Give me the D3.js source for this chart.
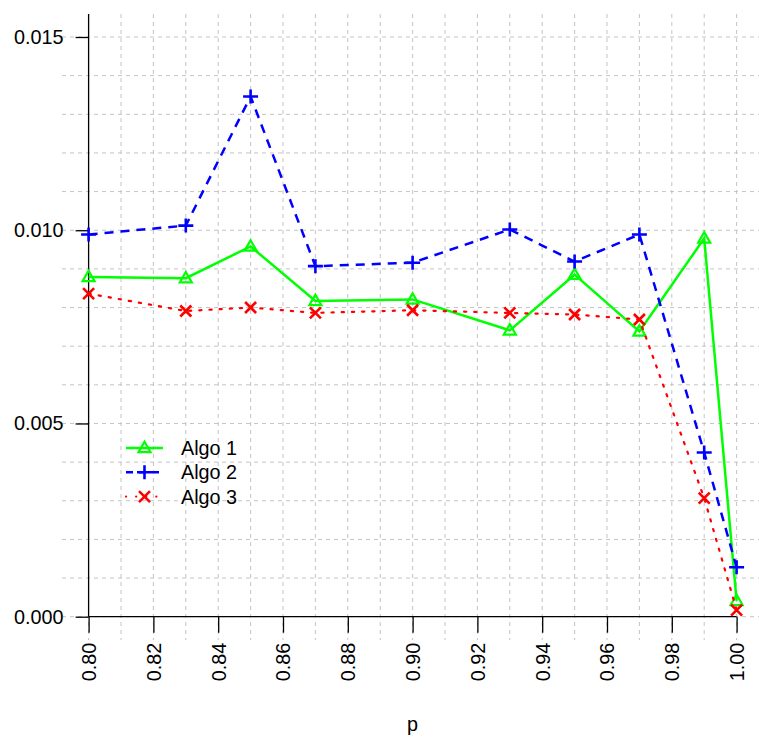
<!DOCTYPE html>
<html>
<head>
<meta charset="utf-8">
<script src="https://cdn.jsdelivr.net/npm/d3@7"></script>
<style>
  html, body { margin: 0; padding: 0; background: #fff; }
  svg { display: block; font-family: "Liberation Sans", Arial, Helvetica, sans-serif; }
</style>
</head>
<body>
<svg id="chart" width="759" height="738"></svg>
<script>
// Probability values on the horizontal axis
const pValues = [0.80, 0.83, 0.85, 0.87, 0.90, 0.93, 0.95, 0.97, 0.99, 1.00];

// Measured values for each algorithm
const algo1 = [0.00879, 0.00876, 0.00958, 0.00817, 0.00821, 0.00741, 0.00885, 0.00738, 0.00979, 0.00041];
const algo2 = [0.00989, 0.01012, 0.01346, 0.00907, 0.00916, 0.01002, 0.00919, 0.00989, 0.00425, 0.00128];
const algo3 = [0.00836, 0.00791, 0.00800, 0.00786, 0.00793, 0.00786, 0.00782, 0.00769, 0.00307, 0.00017];

const seriesNames = ["Algo 1", "Algo 2", "Algo 3"];
const seriesColors = ["#00ff00", "#0000ff", "#ff0000"];
const seriesDash = [null, "9,7", "2.2,8"];
const seriesShapes = ["triangle", "plus", "cross"];

const xTicks = [0.80, 0.82, 0.84, 0.86, 0.88, 0.90, 0.92, 0.94, 0.96, 0.98, 1.00];
const yTicks = [0.000, 0.005, 0.010, 0.015];
const xGrid = d3.range(0, 21).map(i => 0.80 + i * 0.01);
const yGrid = d3.range(0, 16).map(i => i * 0.001);

const svg = d3.select("#chart");
const x = d3.scaleLinear().domain([0.80, 1.00]).range([88.6, 736.6]);
const y = d3.scaleLinear().domain([0, 0.015]).range([616.7, 37]);
const plotTop = 14, gridBottom = 640, gridLeft = 62, gridRight = 759;
const fontSize = 19.8;

// Dashed background grid
const grid = svg.append("g").attr("stroke", "#c4c4c4").attr("stroke-width", 1)
  .attr("stroke-dasharray", "4,4");
grid.selectAll("line.v").data(xGrid).join("line")
  .attr("x1", d => x(d)).attr("x2", d => x(d))
  .attr("y1", plotTop).attr("y2", gridBottom);
grid.selectAll("line.h").data(yGrid).join("line")
  .attr("x1", gridLeft).attr("x2", gridRight)
  .attr("y1", d => y(d)).attr("y2", d => y(d));

// Y axis
const yAxis = d3.axisLeft(y).tickValues(yTicks).tickFormat(d3.format(".3f"))
  .tickSize(13).tickSizeOuter(0).tickPadding(12);
const gy = svg.append("g").attr("transform", `translate(${x(0.80)},0)`).call(yAxis);
gy.select(".domain").remove();
gy.append("line").attr("x1", 0).attr("x2", 0).attr("y1", plotTop).attr("y2", y(0))
  .attr("stroke", "#000").attr("stroke-width", 1.3);
gy.selectAll(".tick line").attr("stroke", "#000").attr("stroke-width", 1.3);
gy.selectAll(".tick text").attr("font-size", fontSize).attr("fill", "#000")
  .attr("font-family", "Liberation Sans, Arial, sans-serif");

// X axis with vertical tick labels
const xAxis = d3.axisBottom(x).tickValues(xTicks).tickFormat(d3.format(".2f"))
  .tickSize(16).tickSizeOuter(0);
const gx = svg.append("g").attr("transform", `translate(0,${y(0)})`).call(xAxis);
gx.select(".domain").attr("stroke", "#000").attr("stroke-width", 1.3)
  .attr("d", `M${x(0.80)},0H${x(1.00)}`);
gx.selectAll(".tick line").attr("stroke", "#000").attr("stroke-width", 1.3);
gx.selectAll(".tick text")
  .attr("font-size", fontSize).attr("fill", "#000")
  .attr("font-family", "Liberation Sans, Arial, sans-serif")
  .attr("text-anchor", "end")
  .attr("transform", "rotate(-90)")
  .attr("x", -26).attr("y", 0).attr("dy", "0.35em");

// Axis title
svg.append("text").attr("x", x(0.90)).attr("y", 731)
  .attr("text-anchor", "middle").attr("font-size", fontSize).text("p");

// Marker shapes
function drawMarker(g, shape, color) {
  if (shape === "triangle") {
    g.append("path").attr("d", "M0,-6.2L6,4.2L-6,4.2Z")
      .attr("fill", "none").attr("stroke", color).attr("stroke-width", 2.2);
  } else if (shape === "plus") {
    g.append("path").attr("d", "M-7.5,0H7.5M0,-7V7")
      .attr("fill", "none").attr("stroke", color).attr("stroke-width", 2.6);
  } else {
    g.append("path").attr("d", "M-5.5,-5.5L5.5,5.5M-5.5,5.5L5.5,-5.5")
      .attr("fill", "none").attr("stroke", color).attr("stroke-width", 2.6);
  }
}

// Series lines and markers
const allSeries = [algo1, algo2, algo3];
const line = d3.line().x(d => x(d[0])).y(d => y(d[1]));
allSeries.forEach((vals, i) => {
  const pts = pValues.map((p, j) => [p, vals[j]]);
  svg.append("path").datum(pts).attr("d", line)
    .attr("fill", "none").attr("stroke", seriesColors[i])
    .attr("stroke-width", i === 2 ? 2.2 : 2.5)
    .attr("stroke-linecap", i === 2 ? "round" : "butt")
    .attr("stroke-dasharray", seriesDash[i]);
  pts.forEach(d => {
    const g = svg.append("g").attr("transform", `translate(${x(d[0])},${y(d[1])})`);
    drawMarker(g, seriesShapes[i], seriesColors[i]);
  });
});

// Legend
const legend = svg.append("g");
seriesNames.forEach((name, i) => {
  const cy = 448 + i * 24.3;
  legend.append("line").attr("x1", 126).attr("x2", 163).attr("y1", cy).attr("y2", cy)
    .attr("stroke", seriesColors[i]).attr("stroke-width", i === 2 ? 2.2 : 2.5)
    .attr("stroke-linecap", i === 2 ? "round" : "butt")
    .attr("stroke-dasharray", i === 1 ? "7,6" : (i === 2 ? "0.1,10" : null));
  const g = legend.append("g").attr("transform", `translate(144.5,${cy})`);
  drawMarker(g, seriesShapes[i], seriesColors[i]);
  legend.append("text").attr("x", 181).attr("y", cy).attr("dy", "0.35em")
    .attr("font-size", fontSize).text(name);
});
</script>
</body>
</html>
